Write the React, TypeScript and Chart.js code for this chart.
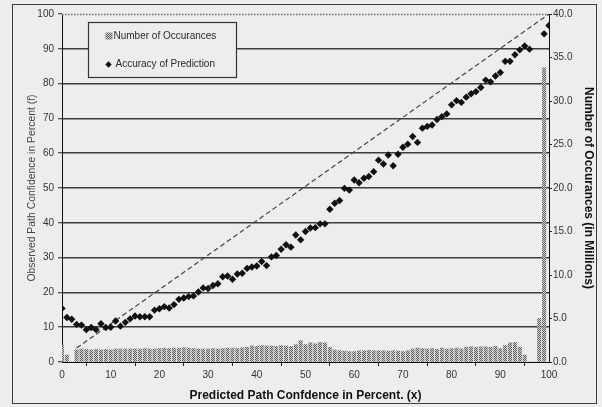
import { useEffect, useRef } from "react";
import { Chart, registerables } from "chart.js";

Chart.register(...registerables);

// Accuracy of prediction: predicted confidence (x) vs observed confidence (f)
const predictedPct = [
  0, 1, 2, 3, 4, 5, 6, 7, 8, 9,
  10, 11, 12, 13, 14, 15, 16, 17, 18, 19,
  20, 21, 22, 23, 24, 25, 26, 27, 28, 29,
  30, 31, 32, 33, 34, 35, 36, 37, 38, 39,
  40, 41, 42, 43, 44, 45, 46, 47, 48, 49,
  50, 51, 52, 53, 54, 55, 56, 57, 58, 59,
  60, 61, 62, 63, 64, 65, 66, 67, 68, 69,
  70, 71, 72, 73, 74, 75, 76, 77, 78, 79,
  80, 81, 82, 83, 84, 85, 86, 87, 88, 89,
  90, 91, 92, 93, 94, 95, 96, 99, 100,
];
const observedPct = [
  15.4, 12.8, 12.3, 10.8, 10.6, 9.3, 9.9, 9.3, 11.0, 9.9,
  10.0, 11.8, 10.3, 11.4, 12.4, 13.2, 13.0, 13.0, 13.0, 14.9,
  15.3, 15.9, 15.5, 16.5, 18.0, 18.4, 18.8, 19.0, 20.1, 21.3,
  21.1, 22.0, 22.5, 24.5, 24.7, 23.8, 25.3, 25.5, 26.9, 27.3,
  27.6, 28.9, 27.7, 30.2, 30.6, 32.4, 33.7, 33.0, 36.5, 35.1,
  37.5, 38.5, 38.6, 39.7, 39.7, 43.9, 45.6, 46.4, 49.9, 49.4,
  52.3, 51.5, 52.8, 53.3, 54.7, 58.0, 56.9, 59.5, 56.4, 59.7,
  61.7, 62.6, 64.8, 63.1, 67.2, 67.7, 68.1, 69.7, 70.5, 71.3,
  73.9, 75.1, 74.6, 76.1, 77.1, 77.7, 78.9, 81.0, 80.5, 82.2,
  83.2, 86.4, 86.4, 88.3, 89.7, 90.8, 89.9, 94.3, 96.7,
];

// Number of occurances per confidence bin, in millions
const occurrenceBins = [
  0, 1, 2, 3, 4, 5, 6, 7, 8, 9,
  10, 11, 12, 13, 14, 15, 16, 17, 18, 19,
  20, 21, 22, 23, 24, 25, 26, 27, 28, 29,
  30, 31, 32, 33, 34, 35, 36, 37, 38, 39,
  40, 41, 42, 43, 44, 45, 46, 47, 48, 49,
  50, 51, 52, 53, 54, 55, 56, 57, 58, 59,
  60, 61, 62, 63, 64, 65, 66, 67, 68, 69,
  70, 71, 72, 73, 74, 75, 76, 77, 78, 79,
  80, 81, 82, 83, 84, 85, 86, 87, 88, 89,
  90, 91, 92, 93, 94, 95, 96, 97, 98, 99,
];
const occurrenceMillions = [
  1.9, 0.8, 0, 1.4, 1.5, 1.45, 1.4, 1.45, 1.4, 1.45,
  1.4, 1.5, 1.5, 1.5, 1.5, 1.5, 1.5, 1.55, 1.5, 1.5,
  1.55, 1.6, 1.55, 1.6, 1.6, 1.65, 1.6, 1.55, 1.5, 1.5,
  1.5, 1.55, 1.5, 1.55, 1.6, 1.6, 1.55, 1.65, 1.7, 1.85,
  1.8, 1.9, 1.85, 1.85, 1.8, 1.9, 1.85, 1.8, 2.0, 2.45,
  2.0, 2.2, 2.1, 2.25, 2.2, 1.7, 1.4, 1.3, 1.25, 1.2,
  1.2, 1.3, 1.3, 1.35, 1.3, 1.3, 1.3, 1.25, 1.3, 1.25,
  1.2, 1.3, 1.5, 1.6, 1.55, 1.5, 1.55, 1.45, 1.6, 1.5,
  1.55, 1.6, 1.5, 1.7, 1.75, 1.7, 1.75, 1.75, 1.7, 1.8,
  1.55, 1.9, 2.2, 2.25, 1.7, 0.8, 0, 0, 5.0, 33.8,
];

// Dashed reference line (perfect calibration)
const idealX = [3, 100];
const idealY = [4, 100];

const leftTickValues = [0, 10, 20, 30, 40, 50, 60, 70, 80, 90, 100];
const rightTickValues = [0, 5, 10, 15, 20, 25, 30, 35, 40];

const FONT = "'Liberation Sans', Arial, sans-serif";
const PAGE_BG = "#ededed";

function makeDotPattern(): CanvasPattern | string {
  const tile = document.createElement("canvas");
  tile.width = 2;
  tile.height = 2;
  const t = tile.getContext("2d");
  if (!t) return "#999";
  t.fillStyle = "#d2d2d2";
  t.fillRect(0, 0, 2, 2);
  t.fillStyle = "#5e5e5e";
  t.fillRect(0, 0, 1, 1);
  t.fillRect(1, 1, 1, 1);
  const p = t.createPattern(tile, "repeat");
  return p || "#999";
}

export default function App() {
  const canvasRef = useRef<HTMLCanvasElement | null>(null);

  useEffect(() => {
    document.body.style.margin = "0";
    const canvas = canvasRef.current;
    if (!canvas) return;

    const dots = makeDotPattern();

    const accuracy = predictedPct.map((x, i) => ({ x, y: observedPct[i] }));
    const occurrences = occurrenceBins.map((x, i) => ({ x, y: occurrenceMillions[i] }));
    const ideal = idealX.map((x, i) => ({ x, y: idealY[i] }));

    // Dotted top border at f = 100
    const topDotted = {
      id: "topDotted",
      beforeDatasetsDraw(chart: any) {
        const { ctx, chartArea } = chart;
        const y = chart.scales.y.getPixelForValue(100);
        ctx.save();
        ctx.strokeStyle = "#6a6a6a";
        ctx.lineWidth = 1.4;
        ctx.setLineDash([1.5, 1.5]);
        ctx.beginPath();
        ctx.moveTo(chartArea.left, Math.round(y) + 0.5);
        ctx.lineTo(chartArea.right, Math.round(y) + 0.5);
        ctx.stroke();
        ctx.restore();
      },
    };

    // Boxed legend inside the plot area
    const boxLegend = {
      id: "boxLegend",
      afterDatasetsDraw(chart: any) {
        const { ctx, chartArea } = chart;
        const x0 = chartArea.left + 26.5;
        const y0 = chartArea.top + 8.5;
        const w = 148;
        const h = 55;
        ctx.save();
        ctx.fillStyle = PAGE_BG;
        ctx.fillRect(x0, y0, w, h);
        ctx.strokeStyle = "#333";
        ctx.lineWidth = 1.2;
        ctx.strokeRect(x0, y0, w, h);

        ctx.font = `10px ${FONT}`;
        ctx.fillStyle = "#2a2a2a";
        ctx.textBaseline = "middle";
        ctx.textAlign = "left";

        // bar entry
        ctx.fillStyle = dots as any;
        ctx.fillRect(x0 + 17, y0 + 10, 7, 7);
        ctx.fillStyle = "#2a2a2a";
        ctx.fillText(chart.data.datasets[2].label, x0 + 25, y0 + 14);

        // marker entry
        const cx = x0 + 20;
        const cy = y0 + 42;
        ctx.fillStyle = "#111";
        ctx.beginPath();
        ctx.moveTo(cx, cy - 3.2);
        ctx.lineTo(cx + 3.2, cy);
        ctx.lineTo(cx, cy + 3.2);
        ctx.lineTo(cx - 3.2, cy);
        ctx.closePath();
        ctx.fill();
        ctx.fillStyle = "#2a2a2a";
        ctx.fillText(chart.data.datasets[1].label, x0 + 27, y0 + 42);
        ctx.restore();
      },
    };

    const chart = new Chart(canvas, {
      type: "scatter",
      data: {
        datasets: [
          {
            type: "line",
            label: "Ideal",
            data: ideal,
            borderColor: "#444",
            borderWidth: 1.2,
            borderDash: [5, 3],
            pointRadius: 0,
            yAxisID: "y",
            order: 2,
          },
          {
            type: "scatter",
            label: "Accuracy of Prediction",
            data: accuracy,
            pointStyle: "rectRot",
            pointRadius: 3.7,
            backgroundColor: "#111",
            borderColor: "#111",
            borderWidth: 0,
            yAxisID: "y",
            order: 1,
          },
          {
            type: "bar",
            label: "Number of Occurances",
            data: occurrences,
            backgroundColor: dots as any,
            borderWidth: 0,
            barThickness: 3.4,
            yAxisID: "y2",
            order: 3,
          },
        ] as any,
      },
      options: {
        animation: false,
        responsive: false,
        devicePixelRatio: 1,
        layout: { padding: { top: 14, left: 0, right: 0, bottom: 0 } },
        plugins: {
          legend: { display: false },
          tooltip: { enabled: false },
        },
        scales: {
          x: {
            type: "linear",
            min: 0,
            max: 100,
            offset: false,
            ticks: {
              stepSize: 10,
              color: "#333",
              font: { family: FONT, size: 10 },
              padding: 3,
              maxRotation: 0,
            },
            grid: {
              drawOnChartArea: false,
              drawTicks: true,
              tickLength: 4,
              tickColor: "#222",
            },
            border: { color: "#111", width: 1 },
            title: {
              display: true,
              text: "Predicted Path Confdence in Percent. (x)",
              color: "#111",
              font: { family: FONT, size: 12, weight: "bold" },
              padding: { top: 0, bottom: 4.5 },
            },
            afterFit: (s: any) => {
              s.height = 45;
            },
          },
          y: {
            position: "left",
            min: 0,
            max: 100,
            afterBuildTicks: (s: any) => {
              s.ticks = leftTickValues.map((v) => ({ value: v }));
            },
            ticks: {
              color: "#333",
              font: { family: FONT, size: 10 },
              padding: 4,
            },
            grid: {
              color: (c: any) =>
                c.tick && (c.tick.value === 100 || c.tick.value === 0) ? "rgba(0,0,0,0)" : "#3c3c3c",
              lineWidth: 1.5,
              tickLength: 4,
              tickColor: "#222",
              tickWidth: 1,
            },
            border: { color: "#111", width: 1 },
            title: {
              display: true,
              text: "Observed Path Confidence in Percent (f)",
              color: "#444",
              font: { family: FONT, size: 10.4 },
              padding: { top: 26, bottom: 0 },
            },
            afterFit: (s: any) => {
              s.width = 62;
            },
          },
          y2: {
            position: "right",
            min: 0,
            max: 40,
            afterBuildTicks: (s: any) => {
              s.ticks = rightTickValues.map((v) => ({ value: v }));
            },
            ticks: {
              color: "#333",
              font: { family: FONT, size: 10 },
              padding: 1,
              callback: (v: any) => Number(v).toFixed(1),
            },
            grid: {
              drawOnChartArea: false,
              tickLength: 3,
              tickColor: "#222",
            },
            border: { color: "#111", width: 1 },
            title: {
              display: true,
              text: "Number of Occurances (in Millions)",
              color: "#111",
              font: { family: FONT, size: 12, weight: "bold" },
              padding: { top: 6.8, bottom: 0 },
            },
            afterFit: (s: any) => {
              s.width = 53;
            },
          },
        },
      } as any,
      plugins: [topDotted, boxLegend],
    });

    return () => {
      chart.destroy();
    };
  }, []);

  return (
    <div style={{ position: "relative", width: 602, height: 407, background: PAGE_BG, overflow: "hidden" }}>
      <canvas ref={canvasRef} width={602} height={407} style={{ display: "block" }} />
      <div
        style={{
          position: "absolute",
          left: 12,
          top: 4,
          width: 585,
          height: 400,
          border: "1.5px solid #3c3c3c",
          boxSizing: "border-box",
          pointerEvents: "none",
        }}
      />
    </div>
  );
}
